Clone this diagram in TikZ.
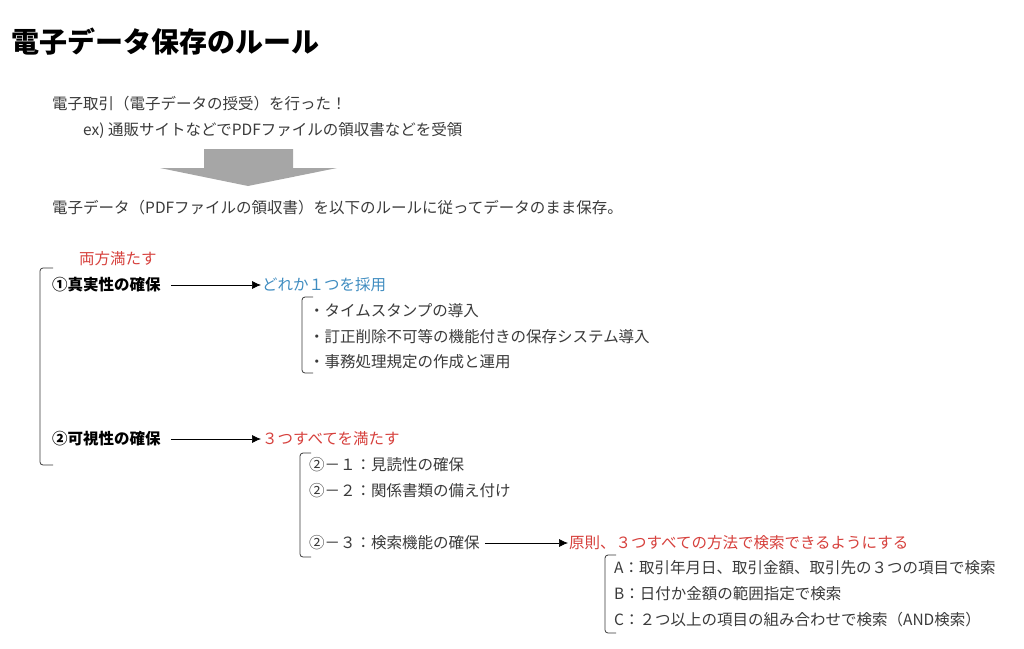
\documentclass[tikz,border=0pt]{standalone}
\usepackage{fontspec}
\setmainfont{Noto Sans CJK JP}
\usepackage{xcolor}
\usetikzlibrary{arrows.meta}
\definecolor{txtgray}{HTML}{3A3A3A}
\definecolor{rulered}{HTML}{D6403C}
\definecolor{ruleblue}{HTML}{3F8CC0}
\definecolor{bigarrow}{HTML}{A6A6A6}
\tikzset{
	txt/.style={anchor=west, inner sep=1pt, text=txtgray, font=\fontsize{15.5}{18}\selectfont},
	head/.style={txt, text=black, font=\fontsize{15.5}{18}\selectfont\bfseries},
	brk/.style={draw=txtgray, line width=0.8pt, rounded corners=3pt},
	link/.style={-{Latex[length=9pt, width=8pt]}, line width=0.7pt},
}

\begin{document}
\begin{tikzpicture}[x=1pt, y=-1pt]
	    		\useasboundingbox (0,0) rectangle (1024,648);
	    		\node[anchor=west, inner sep=0, font=\fontsize{28}{33}\selectfont\bfseries] (title) at (11,42) {電子データ保存のルール};
	    		\node[txt] (trade) at (51,104) {電子取引（電子データの授受）を行った！};
	    		\node[txt] (ex) at (82,130) {ex) 通販サイトなどでPDFファイルの領収書などを受領};
	    		\fill[bigarrow] (204,149) -- (293,149) -- (293,168) -- (337,168) -- (248,186) -- (160,168) -- (204,168) -- cycle;
	    		\node[txt] (save) at (51,208) {電子データ（PDFファイルの領収書）を以下のルールに従ってデータのまま保存。};
				% both
	    		\node[txt, text=rulered] (both) at (78,259) {両方満たす};
	    		\draw[brk] (53,268) -| (40,465) -- (53,465);
	    		\node[head] (auth) at (51,285) {①真実性の確保};
	    		\node[txt, text=ruleblue] (one) at (261,285) {どれか１つを採用};
	    		\draw[link] ([xshift=9pt]auth.east) -- (one.west);
	    		\draw[brk] (313,297) -| (302,373) -- (313,373);
	    		\node[txt] (auth1) at (308,311) {・タイムスタンプの導入};
	    		\node[txt] (auth2) at (308,337) {・訂正削除不可等の機能付きの保存システム導入};
	    		\node[txt] (auth3) at (308,362) {・事務処理規定の作成と運用};
				% visibility
	    		\node[head] (vis) at (51,439) {②可視性の確保};
	    		\node[txt, text=rulered] (three) at (261,439) {３つすべてを満たす};
	    		\draw[link] ([xshift=9pt]vis.east) -- (three.west);
	    		\draw[brk] (311,453) -| (300,557) -- (311,557);
	    		\node[txt] (vis1) at (308,465) {②－１：見読性の確保};
	    		\node[txt] (vis2) at (308,491) {②－２：関係書類の備え付け};
	    		\node[txt] (vis3) at (308,543) {②－３：検索機能の確保};
	    		\node[txt, text=rulered] (rule) at (568,543) {原則、３つすべての方法で検索できるようにする};
	    		\draw[link] ([xshift=4pt]vis3.east) -- (rule.west);
	    		\draw[brk] (616,555) -| (605,633) -- (616,633);
	    		\node[txt] (srchA) at (613,568) {A：取引年月日、取引金額、取引先の３つの項目で検索};
	    		\node[txt] (srchB) at (613,594) {B：日付か金額の範囲指定で検索};
	    		\node[txt] (srchC) at (613,620) {C：２つ以上の項目の組み合わせで検索（AND検索）};
			\end{tikzpicture}
\end{document}
